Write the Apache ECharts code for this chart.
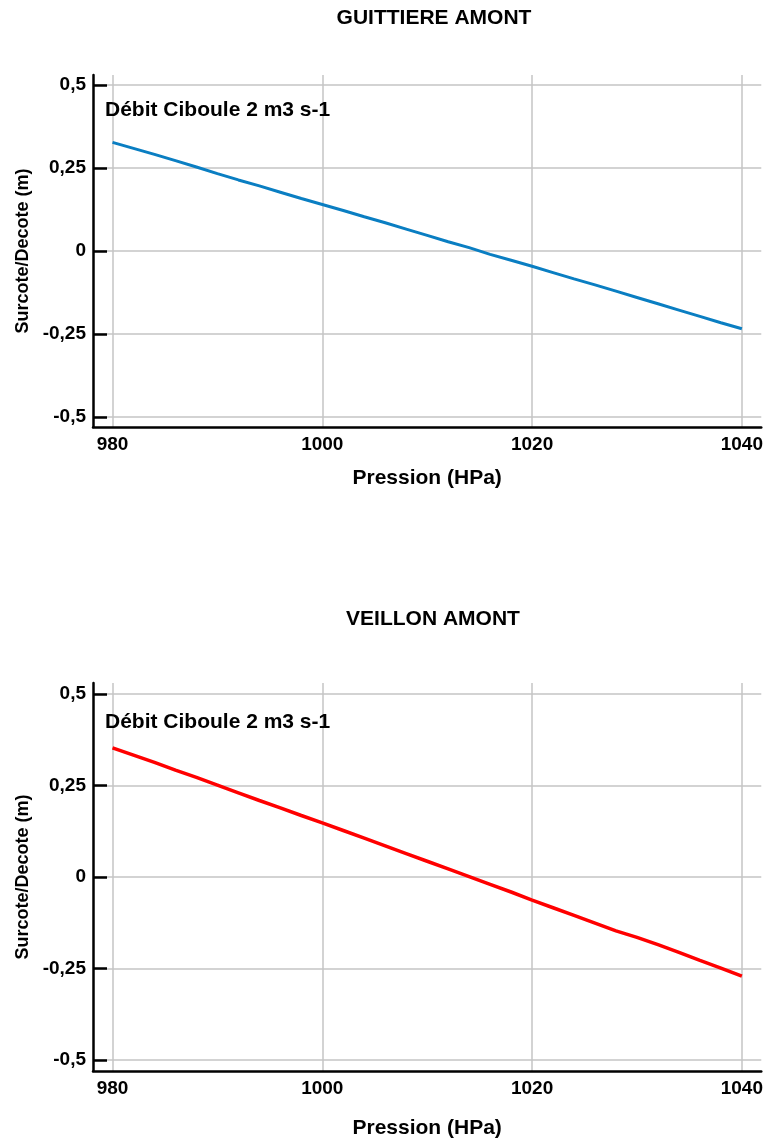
<!DOCTYPE html>
<html>
<head>
<meta charset="utf-8">
<script src="https://cdn.jsdelivr.net/npm/echarts@6/dist/echarts.min.js"></script>
<style>
html,body{margin:0;padding:0;background:#fff;}
#chart{width:766px;height:1142px;}
</style>
</head>
<body>
<div id="chart"></div>
<script>
const pressure = [980,982,984,986,988,990,992,994,996,998,1000,1002,1004,1006,1008,1010,1012,1014,1016,1018,1020,1022,1024,1026,1028,1030,1032,1034,1036,1038,1040];
const guittiere = [0.327,0.309,0.291,0.272,0.253,0.233,0.214,0.196,0.177,0.158,0.140,0.122,0.103,0.085,0.066,0.047,0.028,0.010,-0.010,-0.028,-0.046,-0.065,-0.084,-0.102,-0.121,-0.140,-0.159,-0.178,-0.197,-0.216,-0.234];
const veillon = [0.353,0.333,0.313,0.292,0.272,0.251,0.230,0.209,0.189,0.168,0.148,0.127,0.106,0.085,0.064,0.043,0.022,0.001,-0.020,-0.041,-0.063,-0.084,-0.105,-0.126,-0.147,-0.165,-0.185,-0.206,-0.228,-0.249,-0.271];
const xTicks = [980,1000,1020,1040];
const yTicks = [-0.5,-0.25,0,0.25,0.5];
const titles = ['GUITTIERE AMONT','VEILLON AMONT'];
const seriesLabel = 'Débit Ciboule 2 m3 s-1';
const xName = 'Pression (HPa)';
const yName = 'Surcote/Decote (m)';

const FONT = '"Liberation Sans", Arial, sans-serif';
const fmtY = v => String(v).replace('.', ',');
const fmtX = v => String(v);

function xAxis(gi, gap){
  return {
    type:'value', gridIndex:gi, min:978.14, max:1041.85,
    name:xName, nameLocation:'middle', nameGap:gap,
    nameTextStyle:{fontFamily:FONT,fontWeight:'bold',fontSize:21,color:'#000'},
    axisLine:{onZero:false,lineStyle:{color:'#000',width:2.5}},
    axisTick:{show:false, customValues:xTicks},
    axisLabel:{customValues:xTicks, formatter:fmtX, margin:8, fontFamily:FONT,fontWeight:'bold',fontSize:19,color:'#000', showMinLabel:true, showMaxLabel:true},
    splitLine:{show:true,lineStyle:{color:'#c4c4c4',width:1.5}}
  };
}
function yAxis(gi){
  return {
    type:'value', gridIndex:gi, min:-0.53, max:0.53,
    name:yName, nameLocation:'middle', nameGap:61, nameRotate:90,
    nameTextStyle:{fontFamily:FONT,fontWeight:'bold',fontSize:18,color:'#000'},
    axisLine:{show:true,onZero:false,lineStyle:{color:'#000',width:2.5}},
    axisTick:{show:true,inside:true,length:14,lineStyle:{color:'#000',width:2.5}, customValues:yTicks},
    axisLabel:{customValues:yTicks, margin:7, formatter:fmtY, fontFamily:FONT,fontWeight:'bold',fontSize:19,color:'#000'},
    splitLine:{show:true,lineStyle:{color:'#c4c4c4',width:1.5}}
  };
}

const chart = echarts.init(document.getElementById('chart'), null, {renderer:'canvas'});
chart.setOption({
  backgroundColor:'#fff',
  animation:false,
  title:[
    {text:titles[0], left:429, top:3, textAlign:'center', textStyle:{fontFamily:FONT,fontWeight:'bold',fontSize:21,color:'#000'}},
    {text:titles[1], left:428, top:604, textAlign:'center', textStyle:{fontFamily:FONT,fontWeight:'bold',fontSize:21,color:'#000'}},
    {text:seriesLabel, left:100, top:95, textStyle:{fontFamily:FONT,fontWeight:'bold',fontSize:21,color:'#000'}},
    {text:seriesLabel, left:100, top:707, textStyle:{fontFamily:FONT,fontWeight:'bold',fontSize:21,color:'#000'}}
  ],
  grid:[
    {left:93, top:75, width:669, height:352},
    {left:93, top:683, width:669, height:388}
  ],
  xAxis:[xAxis(0,41), xAxis(1,47)],
  yAxis:[yAxis(0), yAxis(1)],
  series:[
    {type:'line', name:seriesLabel, xAxisIndex:0, yAxisIndex:0, showSymbol:false,
     data:pressure.map((p,i)=>[p,guittiere[i]]), lineStyle:{color:'#0a7ec2',width:3}},
    {type:'line', name:seriesLabel, xAxisIndex:1, yAxisIndex:1, showSymbol:false,
     data:pressure.map((p,i)=>[p,veillon[i]]), lineStyle:{color:'#ff0000',width:3.5}}
  ]
});
</script>
</body>
</html>
